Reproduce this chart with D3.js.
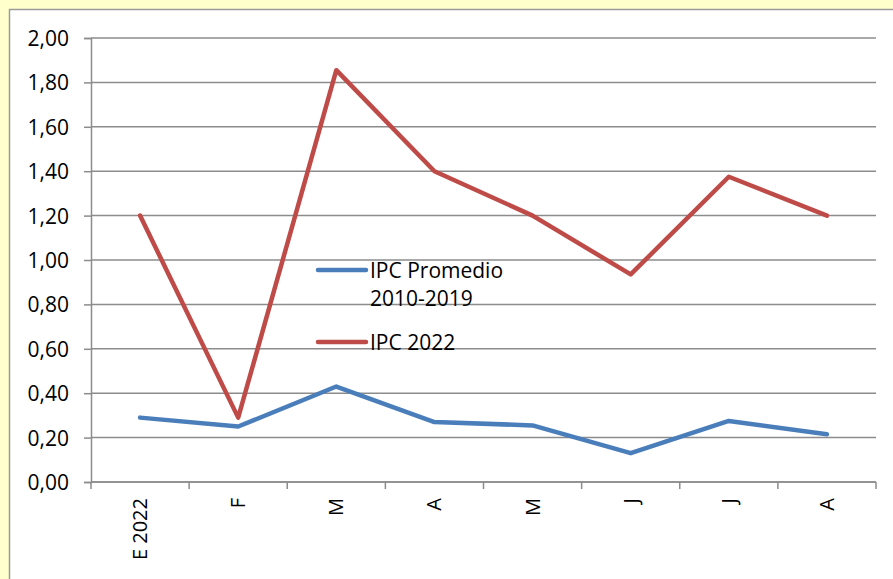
<!DOCTYPE html>
<html>
<head>
<meta charset="utf-8">
<script src="https://cdn.jsdelivr.net/npm/d3@7"></script>
<style>
  body { margin: 0; background: #FFFFCC; }
  text { font-family: "Open Sans", "Noto Sans", sans-serif; fill: #000; }
</style>
</head>
<body>
<div id="chart"></div>
<script>
const months = ["E 2022", "F", "M", "A", "M ", "J", "J ", "A "];
const ipcPromedio = [0.29, 0.25, 0.43, 0.27, 0.255, 0.13, 0.275, 0.215];
const ipc2022 = [1.20, 0.29, 1.855, 1.40, 1.20, 0.935, 1.375, 1.20];
const yTicks = [0, 0.2, 0.4, 0.6, 0.8, 1.0, 1.2, 1.4, 1.6, 1.8, 2.0];
const seriesNames = [["IPC Promedio", "2010-2019"], ["IPC 2022"]];
const seriesColors = ["#4A7EBB", "#BE4B48"];

const W = 893, H = 579;
const margin = { top: 38, right: 17, bottom: 97, left: 91 },
    width = W - margin.left - margin.right,
    height = H - margin.top - margin.bottom;

const root = d3.select("#chart").append("svg")
    .attr("width", W)
    .attr("height", H);

// white chart panel on the yellow page
root.append("rect")
    .attr("x", 9.5).attr("y", 9.5)
    .attr("width", W).attr("height", H)
    .attr("fill", "#fff")
    .attr("stroke", "#9a9a9a")
    .attr("stroke-width", 1.5);

const svg = root.append("g")
    .attr("transform", "translate(" + margin.left + "," + margin.top + ")");

const x = d3.scaleBand().domain(months).range([0, width]);
const y = d3.scaleLinear().domain([0, 2]).range([height, 0]);

// gridlines
svg.append("g")
    .selectAll("line")
    .data(yTicks)
    .enter()
    .append("line")
    .attr("x1", 0).attr("x2", width)
    .attr("y1", d => y(d)).attr("y2", d => y(d))
    .attr("stroke", "#8c8c8c")
    .attr("stroke-width", 1.5);

// y axis
const yAxis = svg.append("g")
    .call(d3.axisLeft(y)
        .tickValues(yTicks)
        .tickSize(7)
        .tickPadding(15)
        .tickFormat(d => d3.format(".2f")(d).replace(".", ",")));
yAxis.attr("font-size", 21).attr("font-family", null);
yAxis.selectAll("text").attr("dy", "0.36em");

// x axis, ticks at category boundaries
const bounds = d3.range(months.length + 1).map(i => i * x.bandwidth());
const xAxis = svg.append("g").attr("transform", "translate(0," + height + ")");
xAxis.append("line")
    .attr("x1", 0).attr("x2", width)
    .attr("stroke", "#8c8c8c").attr("stroke-width", 1.5);
xAxis.selectAll(".tk")
    .data(bounds)
    .enter()
    .append("line")
    .attr("class", "tk")
    .attr("x1", d => d).attr("x2", d => d)
    .attr("y1", 0).attr("y2", 7)
    .attr("stroke", "#8c8c8c").attr("stroke-width", 1.5);
xAxis.selectAll(".lbl")
    .data(months)
    .enter()
    .append("text")
    .attr("class", "lbl")
    .attr("font-size", 20)
    .attr("text-anchor", "end")
    .attr("transform", d => "translate(" + (x(d) + x.bandwidth() / 2 + 7) + ",16) rotate(-90)")
    .text(d => d.trim());

yAxis.selectAll(".domain, line").attr("stroke", "#8c8c8c").attr("stroke-width", 1.5);

// lines
const line = d3.line()
    .x((d, i) => x(months[i]) + x.bandwidth() / 2)
    .y(d => y(d));

[ipcPromedio, ipc2022].forEach((s, k) => {
    svg.append("path")
        .datum(s)
        .attr("fill", "none")
        .attr("stroke", seriesColors[k])
        .attr("stroke-width", 4.5)
        .attr("stroke-linejoin", "round")
        .attr("stroke-linecap", "round")
        .attr("d", line);
});

// legend
const legend = root.append("g").attr("transform", "translate(318,270)");
[0, 72].forEach((dy, k) => {
    const g = legend.append("g").attr("transform", "translate(0," + dy + ")");
    g.append("line")
        .attr("x1", 0).attr("x2", 48)
        .attr("stroke", seriesColors[k])
        .attr("stroke-width", 4.5)
        .attr("stroke-linecap", "round");
    seriesNames[k].forEach((t, j) => {
        g.append("text")
            .attr("x", 52)
            .attr("y", j * 28)
            .attr("dy", "0.36em")
            .attr("font-size", 21)
            .text(t);
    });
});
</script>
</body>
</html>
